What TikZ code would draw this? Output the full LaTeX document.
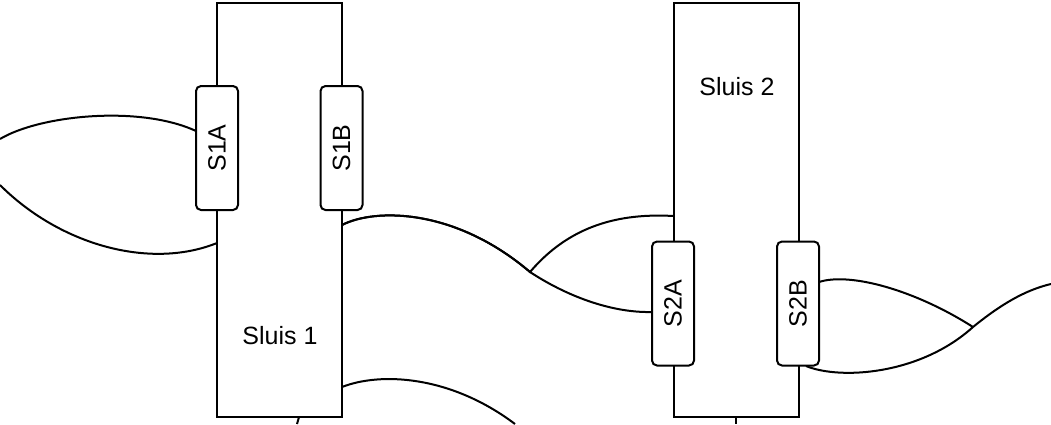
\documentclass[tikz,border=0pt]{standalone}
\usepackage{fontspec}
\setmainfont{Liberation Sans}
\usetikzlibrary{calc}

\tikzset{
  sluis/.style={draw,line width=2pt,fill=white,minimum width=125,minimum height=414,outer sep=0pt,inner sep=0pt},
  deur/.style={draw,line width=2pt,fill=white,rounded corners=5pt,minimum width=42,minimum height=124,outer sep=0pt,inner sep=0pt},
  lijn/.style={line width=2pt},
}

\begin{document}
\begin{tikzpicture}[x=1pt,y=-1pt,font=\fontsize{25}{30}\selectfont]
    \useasboundingbox (0,0) rectangle (1051,424);

    % Sluizen
    \node[sluis] (s1) at (279.5,210) {};
    \node[sluis] (s2) at (736,210) {};
    \node (s1lbl) at (280,336) {Sluis 1};
    \node (s2lbl) at (737,87) {Sluis 2};

    % Losse uiteinden en knooppunten
    \coordinate (w1) at (0,139);
    \coordinate (w2) at (0,185);
    \coordinate (j1) at (530,272);
    \coordinate (j2) at (973,327);
    \coordinate (o1) at (1051,284);
    \coordinate (z1) at (515,424);
    \coordinate (z2) at (297,424);
    \coordinate (z3) at (736,424);

    % Verbindingen
    \draw[lijn] (w1) .. controls (40,115) and (140,105) .. ($(s1.west)+(-21,-79)$);
    \draw[lijn] (w2) .. controls (60,245) and (150,270) .. ($(s1.west)+(0,33)$);
    \draw[lijn] ($(s1.east)+(0,15)$) .. controls (375,208) and (455,208) .. (j1)
        .. controls (570,225) and (620,213) .. ($(s2.west)+(0,6)$);
    \draw[lijn] ($(s1.east)+(0,15)$) .. controls (375,208) and (455,208) .. (j1)
        .. controls (565,295) and (610,313) .. (652,312);
    \draw[lijn] ($(s1.east)+(0,177)$) .. controls (380,372) and (450,375) .. (z1);
    \draw[lijn] ($(s1.south)+(19.5,0)$) .. controls (298,421) .. (z2);
    \draw[lijn] (s2.south) -- (z3);

    \draw[lijn] (819,282) .. controls (850,272) and (915,290) .. (j2);
    \draw[lijn] ($(s2.south)+(70,-51)$) .. controls (840,380) and (920,375) .. (j2)
        .. controls (1000,305) and (1025,290) .. (o1);

    % Deuren
    \node[deur] (s1a) at (217,148) {\rotatebox{90}{S1A}};
    \node[deur] (s1b) at (341.5,148) {\rotatebox{90}{S1B}};
    \node[deur] (s2a) at (673,303.5) {\rotatebox{90}{S2A}};
    \node[deur] (s2b) at (798,303.5) {\rotatebox{90}{S2B}};
\end{tikzpicture}
\end{document}
